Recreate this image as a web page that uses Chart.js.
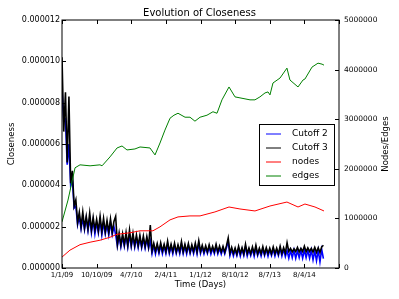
<!DOCTYPE html>
<html>
<head>
<meta charset="utf-8">
<script src="https://cdn.jsdelivr.net/npm/chart.js@4/dist/chart.umd.min.js"></script>
<style>
  html, body { margin: 0; padding: 0; background: #fff; }
  #wrap { width: 399px; height: 299px; }
</style>
</head>
<body>
<div id="wrap"><canvas id="closenessChart" width="399" height="299"></canvas></div>
<script>
// tick labels on the time axis (one every 300 days)
const xTickLabels = ['1/1/09', '10/10/09', '4/7/10', '2/4/11', '1/1/12', '8/10/12', '8/7/13', '8/4/14'];

// closeness samples, one every 15 days, in millionths
const closenessStepDays = 15;
const cutoff2 = [
  8.6, 7.1, 7.2, 5.0, 6.0, 4.0, 4.3, 2.9, 3.0, 2.1,
  2.5, 1.9, 2.4, 1.85, 2.4, 1.8, 2.4, 1.7, 2.3, 1.65,
  2.2, 1.7, 2.3, 1.6, 2.2, 1.65, 2.1, 1.6, 2.2, 1.62,
  2.0, 1.6,
  1.05, 1.55, 1.02, 1.5, 1.05, 1.55, 1.0, 1.6, 1.03, 1.5,
  1.0, 1.45, 0.98, 1.45, 0.97, 1.4, 0.96, 1.4, 0.95, 1.3,
  0.7, 1.1, 0.68, 1.08, 0.7, 1.1, 0.69, 1.05, 0.7, 1.15,
  0.7, 1.05, 0.68, 1.1, 0.7, 1.02, 0.69, 1.15, 0.7, 1.05,
  0.68, 1.08, 0.7, 1.02, 0.69, 1.1, 0.68, 1.2, 0.7, 1.0,
  0.68, 0.98, 0.7, 1.02, 0.67, 0.95, 0.69, 1.05, 0.68, 0.96,
  0.67, 0.95, 0.68, 0.98, 1.3, 0.6, 0.9, 0.58, 0.88, 0.6,
  0.95, 0.58, 0.9, 0.6, 1.02, 0.58, 0.88, 0.6, 0.92, 0.57,
  0.98, 0.6, 0.88, 0.58, 0.92, 0.6, 0.9, 0.57, 0.88, 0.6,
  0.92, 0.58, 0.88, 0.6, 0.95, 0.58, 0.9, 0.55, 0.85, 0.48,
  0.85, 0.5, 0.87, 0.47, 0.84, 0.5, 0.86, 0.48, 0.88, 0.5,
  0.85, 0.47, 0.87, 0.4, 0.84, 0.35, 0.86, 0.3, 0.9, 0.45
];
const cutoff3 = [
  10.2, 6.6, 8.5, 5.1, 8.3, 4.1, 4.7, 3.0, 3.3, 2.2,
  2.7, 2.0, 2.72, 1.95, 2.5, 1.9, 2.66, 1.85, 2.45, 1.85,
  2.35, 1.8, 2.5, 1.78, 2.4, 1.75, 2.3, 1.74, 2.37, 1.72,
  2.25, 2.5,
  1.15, 1.7, 1.12, 1.65, 1.14, 1.72, 1.1, 1.84, 1.12, 1.68,
  1.1, 1.6, 1.08, 1.58, 1.06, 1.55, 1.05, 1.52, 1.04, 2.08,
  0.85, 1.2, 0.82, 1.18, 0.8, 1.22, 0.82, 1.15, 0.8, 1.3,
  0.79, 1.15, 0.8, 1.2, 0.78, 1.12, 0.8, 1.28, 0.79, 1.15,
  0.8, 1.18, 0.78, 1.12, 0.8, 1.2, 0.79, 1.32, 0.8, 1.1,
  0.79, 1.08, 0.78, 1.12, 0.8, 1.05, 0.79, 1.15, 0.78, 1.06,
  0.78, 1.05, 0.76, 1.08, 1.45, 0.72, 1.0, 0.7, 0.97, 0.68,
  1.05, 0.7, 0.98, 0.68, 1.15, 0.7, 0.97, 0.69, 1.02, 0.7,
  1.1, 0.68, 0.96, 0.7, 1.03, 0.68, 0.98, 0.7, 0.96, 0.69,
  1.02, 0.7, 0.96, 0.68, 1.05, 0.7, 0.98, 0.72, 1.22, 0.8,
  0.95, 0.78, 0.93, 0.8, 1.0, 0.78, 0.95, 0.8, 1.06, 0.79,
  0.97, 0.8, 0.95, 0.78, 1.0, 0.76, 0.98, 0.75, 1.02, 1.1
];

// nodes and edges, read at irregular days
const nodeDays = [0, 69, 156, 243, 329, 416, 477, 589, 676, 788, 849, 936, 1005, 1109, 1196, 1325, 1447, 1542, 1672, 1802, 1949, 2045, 2105, 2192, 2270];
const nodes = [220000, 360000, 470000, 520000, 560000, 620000, 680000, 710000, 750000, 750000, 830000, 970000, 1030000, 1050000, 1050000, 1130000, 1230000, 1190000, 1150000, 1250000, 1330000, 1230000, 1290000, 1230000, 1150000];
const edgeDays = [0, 52, 113, 156, 243, 329, 347, 416, 477, 520, 563, 632, 676, 762, 806, 849, 892, 936, 970, 1005, 1066, 1109, 1152, 1196, 1256, 1308, 1343, 1386, 1447, 1499, 1542, 1629, 1672, 1715, 1759, 1785, 1802, 1828, 1889, 1949, 1975, 2045, 2088, 2105, 2166, 2218, 2253, 2270];
const edges = [930000, 1370000, 2020000, 2080000, 2060000, 2080000, 2060000, 2240000, 2420000, 2460000, 2380000, 2400000, 2440000, 2420000, 2280000, 2520000, 2780000, 3020000, 3080000, 3120000, 3040000, 3040000, 2960000, 3040000, 3080000, 3150000, 3120000, 3390000, 3650000, 3450000, 3430000, 3390000, 3390000, 3450000, 3530000, 3550000, 3490000, 3730000, 3830000, 4030000, 3790000, 3650000, 3790000, 3810000, 4050000, 4130000, 4110000, 4090000];

Chart.defaults.font.family = 'DejaVu Sans';
Chart.defaults.color = '#000';

const toPoints = (days, vals) => vals.map((v, i) => ({ x: days[i], y: v }));
const stepPoints = vals => vals.map((v, i) => ({ x: i * closenessStepDays, y: v * 1e-6 }));

// frame, inward ticks, right axis label and boxed legend like matplotlib
const mplFrame = {
  id: 'mplFrame',
  afterDraw(chart) {
    const { ctx, chartArea: a, scales } = chart;
    ctx.save();
    ctx.strokeStyle = '#000';
    ctx.lineWidth = 1;
    ctx.beginPath();
    scales.x.ticks.forEach(t => {
      const px = Math.round(scales.x.getPixelForValue(t.value)) + 0.5;
      ctx.moveTo(px, a.bottom); ctx.lineTo(px, a.bottom - 4);
      ctx.moveTo(px, a.top); ctx.lineTo(px, a.top + 4);
    });
    scales.y.ticks.forEach(t => {
      const py = Math.round(scales.y.getPixelForValue(t.value)) + 0.5;
      ctx.moveTo(a.left, py); ctx.lineTo(a.left + 4, py);
    });
    scales.y1.ticks.forEach(t => {
      const py = Math.round(scales.y1.getPixelForValue(t.value)) + 0.5;
      ctx.moveTo(a.right, py); ctx.lineTo(a.right - 4, py);
    });
    ctx.stroke();
    ctx.strokeRect(a.left, a.top, a.right - a.left, a.bottom - a.top);

    // right axis title, reading upwards
    ctx.fillStyle = '#000';
    ctx.font = '8.5px "DejaVu Sans"';
    ctx.textAlign = 'center';
    ctx.textBaseline = 'middle';
    ctx.translate(386, (a.top + a.bottom) / 2);
    ctx.rotate(-Math.PI / 2);
    ctx.fillText('Nodes/Edges', 0, 0);
    ctx.restore();

    // legend box
    ctx.save();
    ctx.fillStyle = '#fff';
    ctx.fillRect(259.5, 124.5, 75, 61);
    ctx.strokeStyle = '#000';
    ctx.strokeRect(259.5, 124.5, 75, 61);
    ctx.font = '9px "DejaVu Sans"';
    ctx.textAlign = 'left';
    ctx.textBaseline = 'middle';
    chart.data.datasets.forEach((ds, i) => {
      const y = 133.5 + i * 14.1;
      ctx.strokeStyle = ds.borderColor;
      ctx.lineWidth = 1;
      ctx.beginPath();
      ctx.moveTo(266, Math.round(y));
      ctx.lineTo(281, Math.round(y));
      ctx.stroke();
      ctx.fillStyle = '#000';
      ctx.fillText(ds.label, 292, y);
    });
    ctx.restore();
  }
};

new Chart(document.getElementById('closenessChart'), {
  type: 'line',
  data: {
    datasets: [
      { label: 'Cutoff 2', data: stepPoints(cutoff2), borderColor: '#0000ff', borderWidth: 1.6, yAxisID: 'y', order: 3 },
      { label: 'Cutoff 3', data: stepPoints(cutoff3), borderColor: '#000000', borderWidth: 1.6, yAxisID: 'y', order: 2 },
      { label: 'nodes', data: toPoints(nodeDays, nodes), borderColor: '#ff0000', yAxisID: 'y1', order: 1 },
      { label: 'edges', data: toPoints(edgeDays, edges), borderColor: '#008000', yAxisID: 'y1', order: 0 }
    ]
  },
  options: {
    responsive: false,
    animation: false,
    elements: { line: { borderWidth: 1, tension: 0 }, point: { radius: 0 } },
    layout: { padding: 0 },
    plugins: {
      legend: { display: false },
      tooltip: { enabled: false },
      title: { display: true, text: 'Evolution of Closeness', font: { size: 10, weight: 'normal' }, padding: { top: 7, bottom: 1 } }
    },
    scales: {
      x: {
        type: 'linear', min: 0, max: 2400,
        grid: { display: false, drawTicks: false }, border: { display: false },
        ticks: { stepSize: 300, autoSkip: false, maxRotation: 0, padding: 3, font: { size: 7 },
          callback: (v, i) => xTickLabels[i] || '' },
        title: { display: true, text: 'Time (Days)', font: { size: 8.5 }, padding: { top: 0, bottom: 9 } },
        afterFit: s => { s.height = 31; }
      },
      y: {
        position: 'left', min: 0, max: 0.000012,
        grid: { display: false, drawTicks: false }, border: { display: false },
        ticks: { stepSize: 0.000002, padding: 2, font: { size: 8 }, callback: v => v.toFixed(6) },
        title: { display: true, text: 'Closeness', font: { size: 8.5 }, padding: { top: 7, bottom: 0 } },
        afterFit: s => { s.width = 62; }
      },
      y1: {
        position: 'right', min: 0, max: 5000000,
        grid: { display: false, drawTicks: false }, border: { display: false },
        ticks: { stepSize: 1000000, padding: 5, font: { size: 7.5 }, callback: v => String(v) },
        afterFit: s => { s.width = 60; }
      }
    }
  },
  plugins: [mplFrame]
});
</script>
</body>
</html>
